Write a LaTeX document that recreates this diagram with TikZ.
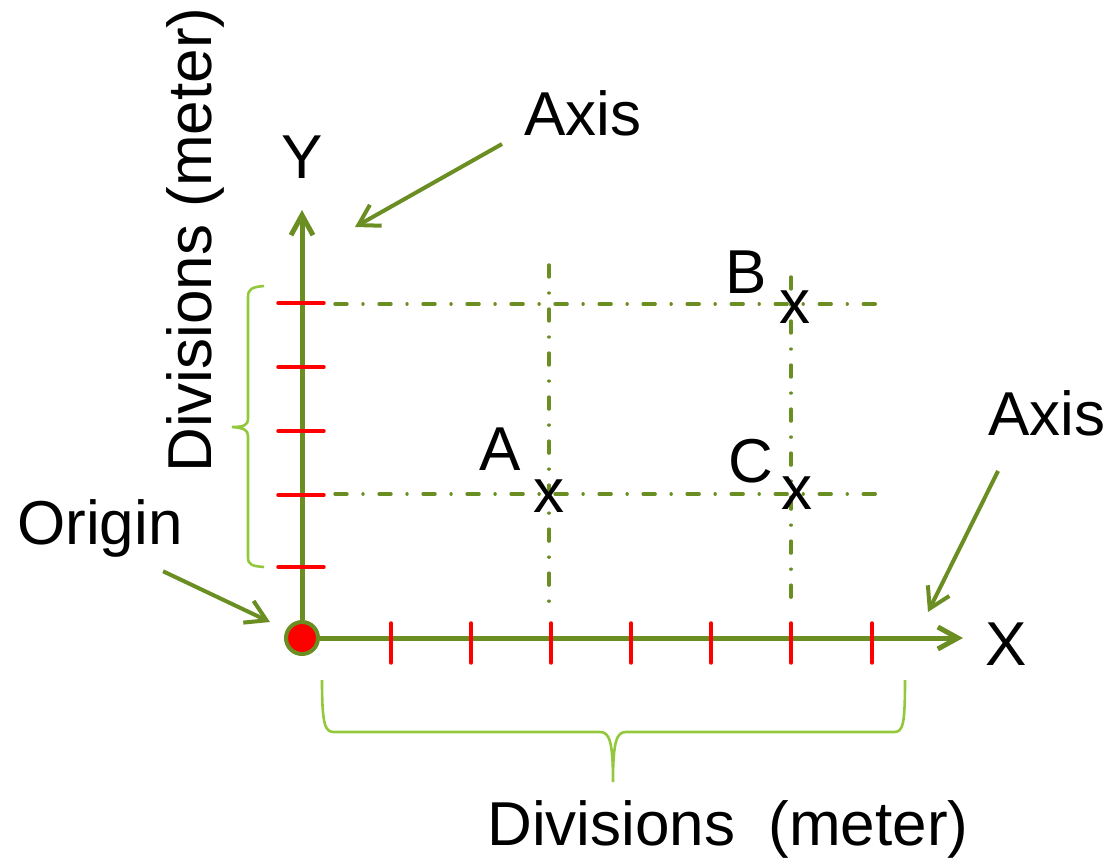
\documentclass[tikz,border=0pt]{standalone}
\usepackage{fontspec}
\setmainfont{Liberation Sans}
\usepackage{xcolor}
\usepackage{tikz}
\usetikzlibrary{arrows.meta}
\definecolor{axisgreen}{HTML}{6B8E23}
\definecolor{bracegreen}{HTML}{93C83C}
\definecolor{tickred}{HTML}{FF0000}
\tikzset{
  lbl/.style={anchor=base, inner sep=0pt, font=\fontsize{31}{37}\selectfont},
  axisline/.style={axisgreen, line width=2.5pt, -{Straight Barb[length=10pt, width=11pt]}},
  pointer/.style={axisgreen, line width=2pt, -{Straight Barb[length=10pt, width=12pt]}},
  tickmark/.style={tickred, line width=1.7pt, line cap=round},
  gridline/.style={axisgreen, line width=1.7pt, line cap=round,
    dash pattern=on 6pt off 8pt on 0.01pt off 8pt},
  bracket/.style={bracegreen, line width=1.3pt},
}

\begin{document}
\begin{tikzpicture}[x=0.5pt, y=-0.5pt]
\useasboundingbox (0,0) rectangle (1116,858);

\draw[gridline] (335,304) -- (880,304);
\draw[gridline] (335,494) -- (880,494);
\draw[gridline] (549,265) -- (549,605);
\draw[gridline] (791,277) -- (791,605);

\node[circle, fill=tickred, draw=axisgreen, line width=2pt,
  minimum size=16pt, inner sep=0pt] (origin) at (302,638) {};
\coordinate (ytip) at (302,210);
\coordinate (xtip) at (963,638);
\draw[axisline] (origin) -- (ytip);
\draw[axisline] (origin) -- (xtip);

\foreach \tx in {391,471,551,631,711,791,872}
  \draw[tickmark] (\tx,623) -- (\tx,663);
\foreach \ty in {303,367,431,495,567}
  \draw[tickmark] (278,\ty) -- (324,\ty);

\node[lbl] (ylbl) at (302,178) {Y};
\node[lbl] (xlbl) at (1006,665) {X};

\node[lbl] (ptA) at (549,512) {x};
\node[lbl] (ptB) at (795,323) {x};
\node[lbl] (ptC) at (797,509) {x};
\node[lbl] (lblA) at (500,470) {A};
\node[lbl] (lblB) at (746,293) {B};
\node[lbl] (lblC) at (751,482) {C};

\node[lbl] (axistop) at (583,135) {Axis};
\node[lbl] (axisright) at (1047,435) {Axis};
\node[lbl] (originlbl) at (100,544) {Origin};

\coordinate (ypoint) at (355,227);
\coordinate (xpoint) at (928,612);
\coordinate (opoint) at (270,622);
\draw[pointer] ([shift={(-22,8)}]axistop.south west) -- (ypoint);
\draw[pointer] ([shift={(10,35)}]axisright.south west) -- (xpoint);
\draw[pointer] ([shift={(-20,14)}]originlbl.south east) -- (opoint);

\node[lbl] (xdiv) at (728,845) {Divisions\hspace{8pt} (meter)};
\node[lbl, rotate=90] (ydiv) at (211,240) {Divisions (meter)};

\draw[bracket] (322,680) .. controls (322,725) and (325,732) .. (334,732)
  -- (600,732) .. controls (609,732) and (613,740) .. (613,782)
  .. controls (613,740) and (617,732) .. (626,732)
  -- (894,732) .. controls (903,732) and (905,725) .. (905,680);
\draw[bracket] (264,286) .. controls (252,287) and (248,289) .. (248,297)
  -- (248,419) .. controls (248,425) and (244,427) .. (232,427)
  .. controls (244,428) and (248,430) .. (248,436)
  -- (248,557) .. controls (248,565) and (252,566) .. (264,567);

\end{tikzpicture}
\end{document}
